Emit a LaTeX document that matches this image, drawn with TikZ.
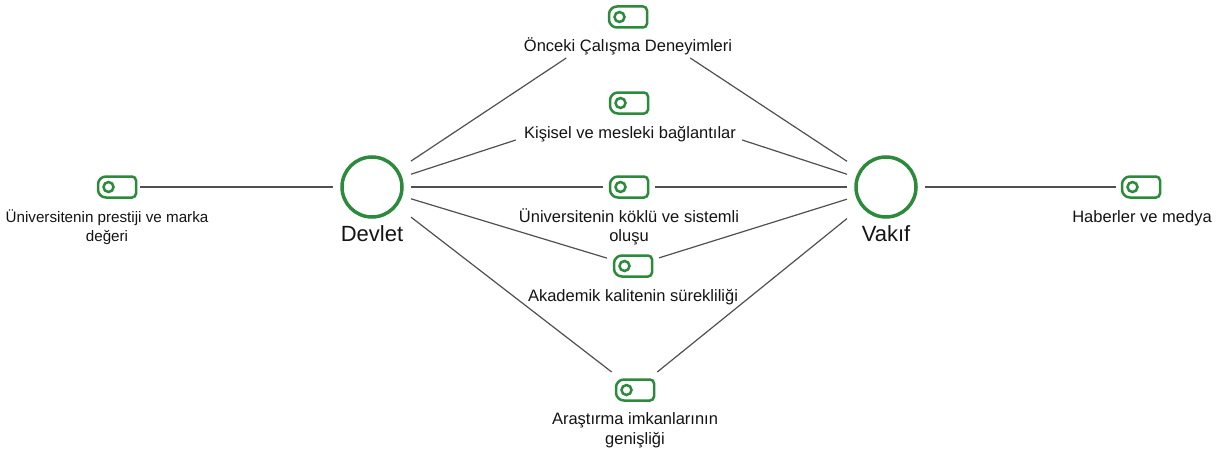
\documentclass[tikz,border=0pt]{standalone}
\usepackage{fontspec}
\setmainfont{Liberation Sans}
\definecolor{nodegreen}{RGB}{44,138,60}
\definecolor{linkgray}{RGB}{80,80,80}
\definecolor{labelink}{RGB}{20,20,20}

% rounded tag outline (strong left rounding, small right rounding) plus its hole
\newcommand\tagicon[1]{%
  \draw[tagpen, shift={(#1.center)}]
    (-11,-10.5) -- (15,-10.5)
    .. controls (17.2,-10.5) and (19,-8.7) .. (19,-6.5)
    -- (19,6.5)
    .. controls (19,8.7) and (17.2,10.5) .. (15,10.5)
    -- (-11,10.5)
    .. controls (-15.4,10.5) and (-19,6.9) .. (-19,2.5)
    -- (-19,-2.5)
    .. controls (-19,-6.9) and (-15.4,-10.5) .. (-11,-10.5)
    -- cycle;
  \draw[tagpen, shift={(#1.center)}] (-8.5,0) circle[radius=5];
}

\begin{document}
\begin{tikzpicture}[x=1pt,y=-1pt,
  hub/.style={circle, draw=nodegreen, line width=3.5pt, minimum size=60pt, inner sep=0pt},
  hubtext/.style={font=\fontsize{22}{26}\selectfont, text=labelink, anchor=base, inner sep=0pt},
  tag/.style={rectangle, minimum width=38pt, minimum height=21pt, inner sep=0pt},
  tagtext/.style={font=\fontsize{16.5}{19.5}\selectfont, text=labelink, align=center, anchor=base, inner sep=0pt},
  link/.style={draw=linkgray, line width=1.2pt},
  tagpen/.style={draw=nodegreen, line width=2.5pt}]

\fill[white] (0,0) rectangle (1226,452);
\useasboundingbox (0,0) rectangle (1226,452);

% hubs
\node[hub] (devlet) at (372,187) {};
\node[hub] (vakif)  at (886,187) {};
\node[hubtext] (devlett) at (372,241) {Devlet};
\node[hubtext] (vakift)  at (886,241) {Vakıf};

% tags
\node[tag] (ia) at (628,17)  {};
\node[tag] (ib) at (629,103) {};
\node[tag] (ic) at (629,187) {};
\node[tag] (id) at (633,266) {};
\node[tag] (ie) at (635,390) {};
\node[tag] (il) at (117,187) {};
\node[tag] (ir) at (1141,187) {};
\foreach \t in {ia,ib,ic,id,ie,il,ir} {\tagicon{\t}}

% tag labels (two-line labels sit on the baseline of their last line)
\node[tagtext] (la) at (628,52)  {Önceki Çalışma Deneyimleri};
\node[tagtext] (lb) at (630,138) {Kişisel ve mesleki bağlantılar};
\node[tagtext] (lc) at (629,241.5) {Üniversitenin köklü ve sistemli\\oluşu};
\node[tagtext] (ld) at (633,301) {Akademik kalitenin sürekliliği};
\node[tagtext] (le) at (635,444) {Araştırma imkanlarının\\genişliği};
\node[tagtext, font=\fontsize{15.2}{19.5}\selectfont] (ll) at (107,241.5) {Üniversitenin prestiji ve marka\\değeri};
\node[tagtext] (lr) at (1142,222) {Haberler ve medya};

% connectors
\draw[link, shorten <=46.8pt, shorten >=74.1pt]  (devlet.center) -- (ia.center);
\draw[link, shorten <=46.7pt, shorten >=74.5pt]  (vakif.center)  -- (ia.center);
\draw[link, shorten <=41pt,   shorten >=119.1pt] (devlet.center) -- (ib.center);
\draw[link, shorten <=41pt,   shorten >=119.1pt] (vakif.center)  -- (ib.center);
\draw[link, shorten <=39pt,   shorten >=26pt]    (devlet.center) -- (ic.center);
\draw[link, shorten <=39pt,   shorten >=26pt]    (vakif.center)  -- (ic.center);
\draw[link, shorten <=40.7pt, shorten >=27.2pt]  (devlet.center) -- (id.center);
\draw[link, shorten <=40.9pt, shorten >=27.2pt]  (vakif.center)  -- (id.center);
\draw[link, shorten <=49.3pt, shorten >=29.5pt]  (devlet.center) -- (ie.center);
\draw[link, shorten <=50.2pt, shorten >=28.6pt]  (vakif.center)  -- (ie.center);
\draw[link, shorten <=23pt,   shorten >=39pt]    (il.center) -- (devlet.center);
\draw[link, shorten <=39pt,   shorten >=25pt]    (vakif.center) -- (ir.center);
\end{tikzpicture}
\end{document}
